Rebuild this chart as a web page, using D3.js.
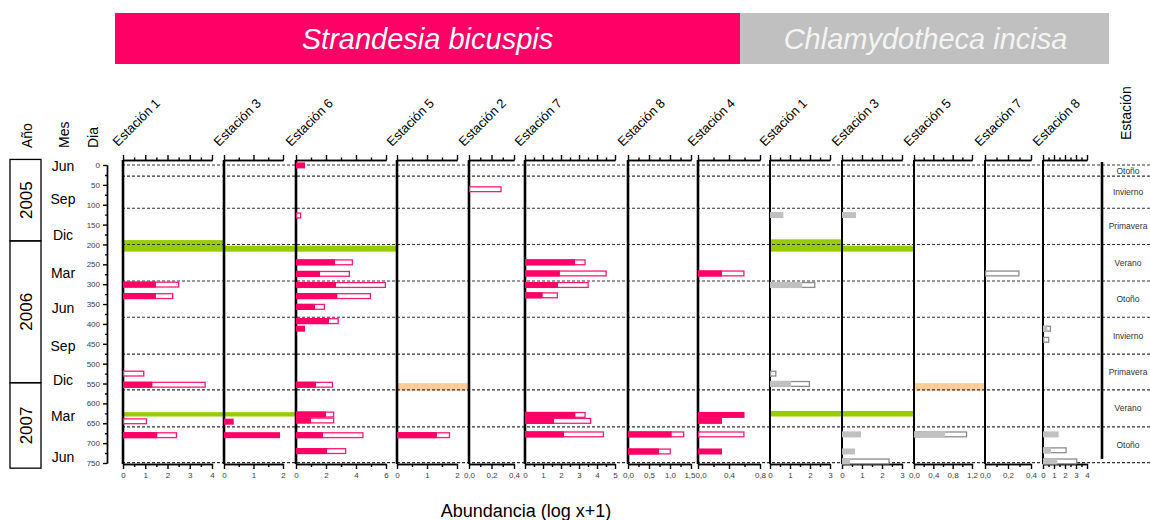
<!DOCTYPE html>
<html lang="es">
<head>
<meta charset="UTF-8">
<title>Abundancia por estación</title>
<script src="https://d3js.org/d3.v7.min.js"></script>
<style>
  body { margin: 0; background: #fff; }
  svg { display: block; font-family: Arial, "Liberation Sans", sans-serif; }
  .tick text { font-size: 8px; fill: #404040; }
  .tick line, .domain { stroke: #000; stroke-width: 1.4px; }
  .grid { stroke: #333; stroke-width: 1.1px; stroke-dasharray: 3 2; }
  .head { font-size: 14px; fill: #000; }
  .season { font-size: 8.5px; fill: #333; }
</style>
</head>
<body>
<script>
// ---- data ----
const species = ["Strandesia bicuspis", "Chlamydotheca incisa"];
const stations = ["Estación 1", "Estación 3", "Estación 6", "Estación 5", "Estación 2", "Estación 7", "Estación 8", "Estación 4",
                  "Estación 1", "Estación 3", "Estación 5", "Estación 7", "Estación 8"];
const stationSpecies = [0, 0, 0, 0, 0, 0, 0, 0, 1, 1, 1, 1, 1];
const axisMax = [4, 2, 6, 2, 0.4, 5, 1.5, 0.8, 3, 3, 1.2, 0.4, 4];
const majorStep = [1, 1, 2, 1, 0.2, 1, 0.5, 0.4, 1, 1, 0.4, 0.2, 1];
const decimals = [0, 0, 0, 0, 1, 0, 1, 1, 0, 0, 1, 1, 0];

// [station index, day, filled value, total value]
const bars = [
  [0, 301, 1.48, 2.53], [0, 330, 1.48, 2.26], [0, 525, 0, 0.96], [0, 553, 1.32, 3.72], [0, 645, 0, 1.08], [0, 680, 1.54, 2.43],
  [1, 646, 0.33, 0.33], [1, 680, 1.9, 1.9],
  [2, 1, 0.6, 0.6], [2, 127, 0, 0.35], [2, 245, 2.6, 3.8], [2, 274, 1.6, 3.6], [2, 302, 2.67, 6.0], [2, 330, 2.75, 5.0],
  [2, 357, 1.27, 1.93], [2, 393, 2.2, 2.85], [2, 412, 0.6, 0.6], [2, 553, 1.33, 2.47], [2, 628, 2.0, 2.55], [2, 643, 1.0, 2.55],
  [2, 680, 1.8, 4.5], [2, 720, 2.07, 3.35],
  [3, 680, 1.33, 1.77],
  [4, 61, 0, 0.29],
  [5, 245, 2.78, 3.37], [5, 273, 1.94, 4.54], [5, 302, 1.83, 3.54], [5, 328, 0.98, 1.83], [5, 629, 2.8, 3.37], [5, 644, 1.61, 3.68],
  [5, 678, 2.17, 4.39],
  [6, 678, 1.04, 1.34], [6, 721, 0.74, 1.02],
  [7, 273, 0.31, 0.6], [7, 629, 0.6, 0.6], [7, 644, 0.31, 0.31], [7, 678, 0, 0.6], [7, 721, 0.31, 0.31],
  [8, 126, 0.67, 0.67], [8, 302, 1.6, 2.27], [8, 525, 0, 0.32], [8, 551, 1.05, 2.0],
  [9, 126, 0.7, 0.7], [9, 678, 0.95, 0.95], [9, 721, 0.65, 0.65], [9, 746, 0.4, 2.38],
  [10, 678, 0.64, 1.1],
  [11, 273, 0, 0.3],
  [12, 412, 0.4, 0.73], [12, 440, 0, 0.57], [12, 678, 1.42, 1.42], [12, 718, 0.73, 2.15], [12, 746, 1.3, 3.12]
];

// [first station, last station, start day, end day]
const greenBands = [[0, 0, 189, 218], [1, 2, 203, 218], [0, 1, 622, 633],
                    [8, 8, 187, 218], [9, 9, 203, 218], [8, 9, 619, 633]];
const peachBands = [[3, 3, 549, 568], [10, 10, 549, 568]];

const seasonBreaks = [0, 28, 109, 200, 292, 383, 476, 566, 659, 749];
const seasonNames = ["Otoño", "Invierno", "Primavera", "Verano", "Otoño", "Invierno", "Primavera", "Verano", "Otoño"];
const monthNames = ["Jun", "Sep", "Dic", "Mar", "Jun", "Sep", "Dic", "Mar", "Jun"];
const monthDays = [3, 86, 176, 273, 361, 455, 541, 633, 734];
const yearNames = ["2005", "2006", "2007"];
const yearBounds = [-14, 191, 548, 763];

// ---- layout ----
const width = 1150, height = 520;
const panelLeft = [123, 224, 296, 397, 469, 525, 628, 698, 770, 842, 914, 985, 1043];
const panelWidth = [89, 59, 90, 60, 45, 90, 63, 62, 60, 60, 58, 46, 44];
const topAxisY = 160, bottomAxisY = 464, rightLineX = 1102;
const barH = 6;
const colors = {
  fill: ["#ff0066", "#c0c0c0"],
  stroke: ["#ff1a75", "#8c8c8c"],
  green: "#99cc00",
  peach: "#ffcc99"
};

const svg = d3.select("body").append("svg")
  .attr("width", width).attr("height", height)
  .attr("viewBox", `0 0 ${width} ${height}`);

const y = d3.scaleLinear().domain([0, 750]).range([165, 463]);
const xs = panelLeft.map((l, i) => d3.scaleLinear().domain([0, axisMax[i]]).range([l, l + panelWidth[i]]));

// title bars
const titleBox = [[115, 740], [740, 1109]];
species.forEach((s, i) => {
  svg.append("rect")
    .attr("x", titleBox[i][0]).attr("y", 13)
    .attr("width", titleBox[i][1] - titleBox[i][0]).attr("height", 51)
    .attr("fill", colors.fill[i]);
  svg.append("text")
    .attr("x", (titleBox[i][0] + titleBox[i][1]) / 2 + (i == 0 ? 0 : 1)).attr("y", 49)
    .attr("text-anchor", "middle")
    .style("font-size", "29px").style("font-style", "italic")
    .attr("fill", i == 0 ? "#fff" : "#f4f4f4")
    .text(s);
});

// header labels
[["Año", 32], ["Mes", 69], ["Dia", 98]].forEach(d => {
  svg.append("text").attr("class", "head")
    .attr("transform", `translate(${d[1]},148) rotate(-90)`)
    .text(d[0]);
});
svg.append("text").attr("class", "head")
  .attr("transform", `translate(1131,140) rotate(-90)`)
  .text("Estación");

// station labels
stations.forEach((s, i) => {
  svg.append("text")
    .attr("transform", `translate(${panelLeft[i] - 5},147) rotate(-45)`)
    .style("font-size", "13px")
    .text(s);
});

// year boxes
yearNames.forEach((yr, i) => {
  const y0 = y(yearBounds[i]), y1 = y(yearBounds[i + 1]);
  svg.append("rect")
    .attr("x", 10).attr("y", y0).attr("width", 31).attr("height", y1 - y0)
    .attr("fill", "none").attr("stroke", "#000").attr("stroke-width", 1.3);
  svg.append("text")
    .attr("transform", `translate(32,${(y0 + y1) / 2}) rotate(-90)`)
    .attr("text-anchor", "middle")
    .style("font-size", "17px")
    .text(yr);
});

// month labels
monthNames.forEach((m, i) => {
  svg.append("text")
    .attr("x", 63).attr("y", y(monthDays[i]))
    .attr("dy", "0.35em").attr("text-anchor", "middle")
    .style("font-size", "14px")
    .text(m);
});

// left day axis
svg.append("g")
  .attr("transform", "translate(107,0)")
  .call(d3.axisLeft(y).tickValues(d3.range(25, 750, 50)).tickSize(2).tickFormat("").tickSizeOuter(0));
svg.append("g")
  .attr("transform", "translate(107,0)")
  .call(d3.axisLeft(y).tickValues(d3.range(0, 751, 50)).tickSize(4).tickPadding(3).tickSizeOuter(0));

// bands
function band(list, color) {
  svg.append("g").selectAll("rect").data(list).enter().append("rect")
    .attr("x", d => panelLeft[d[0]])
    .attr("y", d => y(d[2]))
    .attr("width", d => (d[1] + 1 < panelLeft.length && stationSpecies[d[1] + 1] == stationSpecies[d[0]]
        ? panelLeft[d[1] + 1] : panelLeft[d[1]] + panelWidth[d[1]] + 10) - panelLeft[d[0]] - 1)
    .attr("height", d => y(d[3]) - y(d[2]))
    .attr("fill", color);
}
band(greenBands, colors.green);
band(peachBands, colors.peach);

// season dashed lines
svg.append("g").selectAll("line").data(seasonBreaks).enter().append("line")
  .attr("class", "grid")
  .attr("x1", 122).attr("x2", width)
  .attr("y1", d => y(d)).attr("y2", d => y(d));

// season names
seasonNames.forEach((s, i) => {
  svg.append("text").attr("class", "season")
    .attr("x", 1128).attr("y", (y(seasonBreaks[i]) + y(seasonBreaks[i + 1])) / 2)
    .attr("dy", "0.35em").attr("text-anchor", "middle")
    .text(s);
});

// panel axes
xs.forEach((x, i) => {
  const step = majorStep[i];
  const major = d3.range(0, axisMax[i] + step / 2, step);
  const minor = d3.range(step / 2, axisMax[i], step);
  const fmt = v => d3.format(`.${decimals[i]}f`)(v).replace(".", ",");
  svg.append("g").attr("transform", `translate(0,${topAxisY})`)
    .call(d3.axisTop(x).tickValues(major).tickSize(5).tickFormat("").tickSizeOuter(0));
  svg.append("g").attr("transform", `translate(0,${topAxisY})`)
    .call(d3.axisTop(x).tickValues(minor).tickSize(2.5).tickFormat("").tickSizeOuter(0));
  const bottom = svg.append("g").attr("transform", `translate(0,${bottomAxisY})`)
    .call(d3.axisBottom(x).tickValues(major).tickSize(5).tickPadding(3).tickFormat(fmt).tickSizeOuter(0));
  // squeeze labels where neighbouring panels almost touch
  const labels = bottom.selectAll(".tick text");
  const n = labels.size();
  labels.each(function(d, j) {
    if (j == n - 1 && i + 1 < xs.length && panelLeft[i + 1] - x(axisMax[i]) < 10) d3.select(this).attr("text-anchor", "end").attr("dx", 4);
    if (j == 0 && i > 0 && x(0) - xs[i - 1](axisMax[i - 1]) < 10) d3.select(this).attr("text-anchor", "start").attr("dx", -3);
  });
  svg.append("g").attr("transform", `translate(0,${bottomAxisY})`)
    .call(d3.axisBottom(x).tickValues(minor).tickSize(3).tickFormat("").tickSizeOuter(0));
  svg.append("line")
    .attr("x1", x(0)).attr("x2", x(0))
    .attr("y1", topAxisY).attr("y2", bottomAxisY)
    .attr("stroke", "#000").attr("stroke-width", stationSpecies[i] == 0 ? 2.6 : 2);
});
svg.append("line")
  .attr("x1", rightLineX).attr("x2", rightLineX)
  .attr("y1", 162).attr("y2", 459)
  .attr("stroke", "#000").attr("stroke-width", 2.6);

// bars
const barG = svg.append("g");
bars.forEach(b => {
  const [p, day, a, tot] = b;
  const x = xs[p], sp = stationSpecies[p];
  const yy = y(day) - barH / 2;
  if (tot > a) {
    barG.append("rect")
      .attr("x", x(0) + 0.6).attr("y", yy + 0.6)
      .attr("width", x(tot) - x(0) - 1.2).attr("height", barH - 1.2)
      .attr("fill", "#fff").attr("stroke", colors.stroke[sp]).attr("stroke-width", 1.3);
  }
  if (a > 0) {
    barG.append("rect")
      .attr("x", x(0)).attr("y", yy)
      .attr("width", x(a) - x(0)).attr("height", barH)
      .attr("fill", colors.fill[sp]);
  }
});

// x title
svg.append("text")
  .attr("x", 526).attr("y", 517)
  .attr("text-anchor", "middle")
  .style("font-size", "18px")
  .text("Abundancia (log x+1)");
</script>
</body>
</html>
